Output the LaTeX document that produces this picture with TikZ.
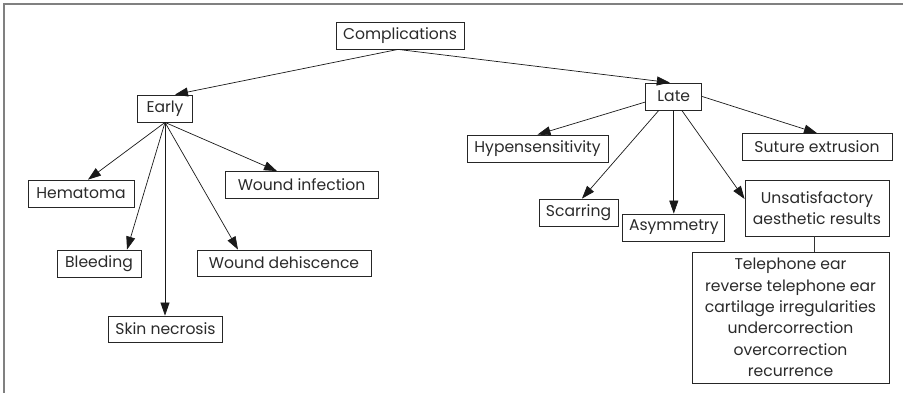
\documentclass[tikz,border=0pt]{standalone}
\usepackage{fontspec}
\setmainfont{Poppins}
\usetikzlibrary{arrows.meta}
\definecolor{frame}{HTML}{808080}
\definecolor{txt}{HTML}{2A2A2A}
\tikzset{
  box/.style={draw=black!85, line width=0.8pt, inner sep=0pt, minimum height=27pt,
    text=txt, font=\fontsize{15.6}{21.3}\selectfont, align=center},
  conn/.style={line width=0.7pt, draw=black!90, -{Triangle[length=13pt,width=9pt]}},
  plain/.style={line width=0.7pt, draw=black!80},
  border/.style={line width=1.2pt, draw=frame}
}
\begin{document}
\begin{tikzpicture}[x=1pt,y=-1pt]
\useasboundingbox (0,0) rectangle (903,393);
\coordinate (fa) at (4,393);
\coordinate (fb) at (4,4);
\coordinate (fc) at (903,4);
\draw[border] (fa) -- (fb) -- (fc);

\node[box, minimum width=128pt] (comp) at (400,35.5) {Complications};
\node[box, minimum width=55pt] (early) at (165,108.5) {Early};
\node[box, minimum width=56pt] (late) at (673.8,96.5) {Late};
\node[box, minimum width=141pt] (hyp) at (537.5,148.5) {Hypensensitivity};
\node[box, minimum width=150pt] (sut) at (817,147) {Suture extrusion};
\node[box, minimum width=106pt] (hem) at (81,193.5) {Hematoma};
\node[box, minimum width=153pt] (winf) at (301.5,185) {Wound infection};
\node[box, minimum width=84pt] (bleed) at (99,263.5) {Bleeding};
\node[box, minimum width=174pt, minimum height=26pt] (wdeh) at (284,263) {Wound dehiscence};
\node[box, minimum width=114pt, minimum height=26pt] (skin) at (165.5,329) {Skin necrosis};
\node[box, minimum width=79pt] (scar) at (578.5,212.5) {Scarring};
\node[box, minimum width=102pt] (asym) at (673.8,227.5) {Asymmetry};
\node[box, minimum width=144pt, minimum height=56pt] (unsat) at (817,208) {Unsatisfactory\\aesthetic results};
\node[box, minimum width=197pt, minimum height=131pt] (tel) at (790.5,317.5)
  {Telephone ear\\reverse telephone ear\\cartilage irregularities\\undercorrection\\overcorrection\\recurrence};

\draw[conn] ([xshift=-2pt]comp.south) -- ([xshift=10pt]early.north);
\draw[conn] ([xshift=-2pt]comp.south) -- ([xshift=-4pt]late.north);

\draw[conn] (early.south) -- ([xshift=7pt]hem.north);
\draw[conn] (early.south) -- ([xshift=-24.5pt]winf.north);
\draw[conn] (early.south) -- ([xshift=28pt]bleed.north);
\draw[conn] (early.south) -- ([xshift=-0.5pt]skin.north);
\draw[conn] (early.south) -- ([xshift=-46pt]wdeh.north);

\draw[conn] ([yshift=-5.5pt]late.west) -- (hyp.north);
\draw[conn] (late.east) -- (sut.north);
\draw[conn] ([xshift=-15pt]late.south) -- ([xshift=3.5pt]scar.north);
\draw[conn] (late.south) -- (asym.north);
\draw[conn] ([xshift=8pt]late.south) -- ([yshift=9pt]unsat.west);

\draw[plain] ([xshift=-3pt]unsat.south) -- ([xshift=-3pt]unsat.south |- tel.north);
\end{tikzpicture}
\end{document}
